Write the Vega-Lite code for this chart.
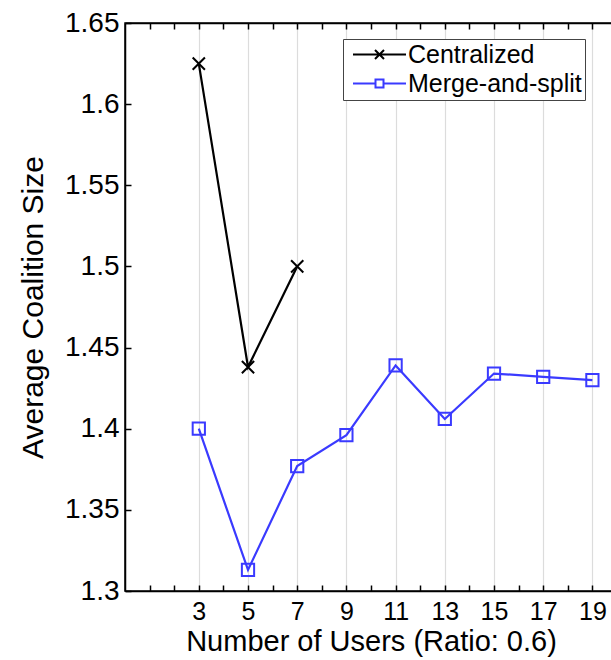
{
  "$schema": "https://vega.github.io/schema/vega-lite/v6.json",
  "width": 492,
  "height": 568,
  "autosize": "none",
  "padding": {"left": 125, "top": 23, "right": 0, "bottom": 69},
  "background": "white",
  "config": {
    "view": {"stroke": "black", "strokeWidth": 1.5},
    "font": "Liberation Sans",
    "axis": {
      "labelFont": "Liberation Sans",
      "titleFont": "Liberation Sans",
      "labelColor": "black",
      "titleColor": "black",
      "domainColor": "black",
      "tickColor": "black",
      "titleFontWeight": "normal"
    },
    "legend": {
      "orient": "none",
      "legendX": 218,
      "legendY": 16,
      "fillColor": "white",
      "strokeColor": "#444444",
      "padding": 3,
      "labelFont": "Liberation Sans",
      "labelFontSize": 25,
      "labelColor": "black",
      "labelLimit": 0,
      "labelOffset": 16,
      "symbolOffset": 21,
      "symbolSize": 400,
      "symbolStrokeWidth": 2,
      "symbolOpacity": 1,
      "rowPadding": 3,
      "title": null
    }
  },
  "data": {
    "values": [
      {"series": "Centralized", "users": 3, "size": 1.625},
      {"series": "Centralized", "users": 5, "size": 1.438},
      {"series": "Centralized", "users": 7, "size": 1.5},
      {"series": "Merge-and-split", "users": 3, "size": 1.4},
      {"series": "Merge-and-split", "users": 5, "size": 1.313},
      {"series": "Merge-and-split", "users": 7, "size": 1.377},
      {"series": "Merge-and-split", "users": 9, "size": 1.396},
      {"series": "Merge-and-split", "users": 11, "size": 1.439},
      {"series": "Merge-and-split", "users": 13, "size": 1.406},
      {"series": "Merge-and-split", "users": 15, "size": 1.434},
      {"series": "Merge-and-split", "users": 17, "size": 1.432},
      {"series": "Merge-and-split", "users": 19, "size": 1.43}
    ]
  },
  "layer": [
    {
      "mark": {"type": "line", "strokeWidth": 2.2},
      "encoding": {
        "x": {
          "field": "users",
          "type": "quantitative",
          "scale": {"domain": [0, 20], "nice": false},
          "axis": {
            "orient": "bottom",
            "values": [1, 2, 3, 4, 5, 6, 7, 8, 9, 10, 11, 12, 13, 14, 15, 16, 17, 18, 19],
            "labelExpr": "datum.value >= 3 && datum.value % 2 == 1 ? datum.label : ''",
            "labelFontSize": 25,
            "labelPadding": 14,
            "labelFlush": false,
            "labelOverlap": false,
            "grid": true,
            "gridColor": {"condition": {"test": "datum.value >= 3 && datum.value % 2 == 1", "value": "#dcdcdc"}, "value": "transparent"},
            "gridWidth": 1.2,
            "tickSize": -6,
            "tickWidth": 1.5,
            "domainWidth": 1.5,
            "title": "Number of Users (Ratio: 0.6)",
            "titleFontSize": 29,
            "titlePadding": 3
          }
        },
        "y": {
          "field": "size",
          "type": "quantitative",
          "scale": {"domain": [1.3, 1.65], "nice": false, "zero": false},
          "axis": {
            "values": [1.3, 1.35, 1.4, 1.45, 1.5, 1.55, 1.6, 1.65],
            "format": "~g",
            "labelFontSize": 28,
            "labelPadding": 12,
            "labelFlush": false,
            "labelOverlap": false,
            "grid": false,
            "tickSize": -6,
            "tickWidth": 1.5,
            "domainWidth": 1.5,
            "title": "Average Coalition Size",
            "titleFontSize": 30,
            "titlePadding": 16
          }
        },
        "color": {
          "field": "series",
          "type": "nominal",
          "scale": {"domain": ["Centralized", "Merge-and-split"], "range": ["#000000", "#3a3aff"]},
          "legend": null
        }
      }
    },
    {
      "mark": {"type": "point", "filled": false, "strokeWidth": 2, "opacity": 1},
      "encoding": {
        "x": {
          "field": "users",
          "type": "quantitative",
          "axis": {
            "orient": "top",
            "values": [1, 2, 3, 4, 5, 6, 7, 8, 9, 10, 11, 12, 13, 14, 15, 16, 17, 18, 19],
            "labels": false,
            "grid": false,
            "tickSize": -6,
            "tickWidth": 1.5,
            "domainWidth": 1.5,
            "title": null
          }
        },
        "y": {"field": "size", "type": "quantitative"},
        "color": {"field": "series", "type": "nominal", "legend": null},
        "shape": {
          "field": "series",
          "type": "nominal",
          "scale": {"domain": ["Centralized", "Merge-and-split"], "range": ["M-1,-1L1,1M-1,1L1,-1", "square"]},
          "legend": null
        },
        "size": {"value": 150}
      }
    },
    {
      "mark": {"type": "point", "filled": false, "strokeWidth": 2, "opacity": 0},
      "encoding": {
        "x": {"field": "users", "type": "quantitative", "axis": null},
        "y": {"field": "size", "type": "quantitative"},
        "stroke": {
          "field": "series",
          "type": "nominal",
          "scale": {"domain": ["Centralized", "Merge-and-split"], "range": ["#000000", "#3a3aff"]},
          "legend": {}
        },
        "shape": {
          "field": "series",
          "type": "nominal",
          "scale": {
            "domain": ["Centralized", "Merge-and-split"],
            "range": [
              "M-2.65,0L2.65,0M-0.45,-0.45L0.45,0.45M-0.45,0.45L0.45,-0.45",
              "M-2.65,0L-0.4,0M0.4,0L2.65,0M-0.4,-0.4L0.4,-0.4L0.4,0.4L-0.4,0.4Z"
            ]
          },
          "legend": {}
        }
      }
    }
  ],
  "resolve": {"scale": {"shape": "independent", "stroke": "independent"}, "axis": {"x": "independent"}}
}
